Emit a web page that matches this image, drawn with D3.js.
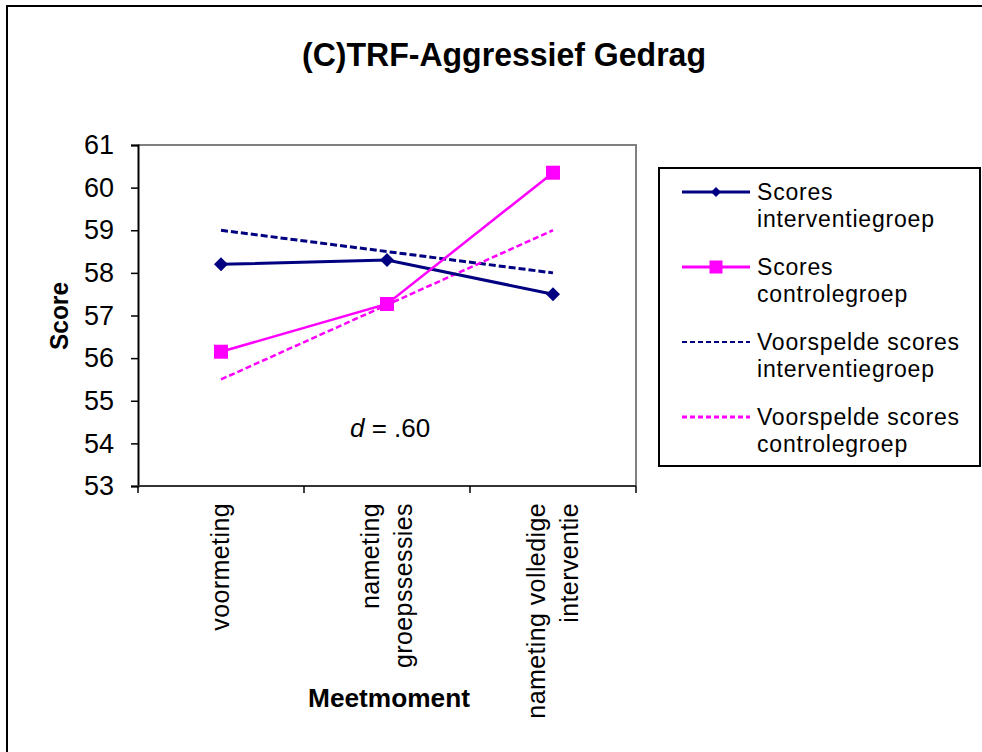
<!DOCTYPE html>
<html>
<head>
<meta charset="utf-8">
<script src="https://cdn.jsdelivr.net/npm/d3@7"></script>
<style>
  body { margin: 0; background: #fff; }
  text { font-family: Arial, "Liberation Sans", sans-serif; fill: #000; }
</style>
</head>
<body>
<div class="chart"></div>
<script>
const categories = ['voormeting', 'nameting groepssessies', 'nameting volledige interventie'];
const categoryLines = [['voormeting'], ['nameting', 'groepssessies'], ['nameting volledige', 'interventie']];
const scoresInterventie = [58.2, 58.3, 57.5];
const scoresControle = [56.15, 57.27, 60.35];
const voorspeldInterventie = [59.0, 58.5, 58.0];
const voorspeldControle = [55.5, 57.25, 59.0];
const yTicks = [53, 54, 55, 56, 57, 58, 59, 60, 61];

const series = [
    { name: ['Scores', 'interventiegroep'], values: scoresInterventie, color: '#000080', width: 3, dash: null, marker: 'diamond' },
    { name: ['Scores', 'controlegroep'], values: scoresControle, color: '#ff00ff', width: 2.5, dash: null, marker: 'square' },
    { name: ['Voorspelde scores', 'interventiegroep'], values: voorspeldInterventie, color: '#000080', width: 3, dash: '7,3', marker: null },
    { name: ['Voorspelde scores', 'controlegroep'], values: voorspeldControle, color: '#ff00ff', width: 2.5, dash: '6,3', marker: null }
];

const plot = { left: 138, right: 636, top: 145, bottom: 486 };

const svg = d3.select('.chart')
    .append('svg')
        .attr('width', 982)
        .attr('height', 752);

// outer frame (right/bottom edges fall outside the picture)
svg.append('rect')
    .attr('x', 7).attr('y', 6)
    .attr('width', 1000).attr('height', 800)
    .attr('fill', 'none')
    .attr('stroke', '#000')
    .attr('stroke-width', 2);

svg.append('text')
    .attr('x', 504).attr('y', 66)
    .attr('text-anchor', 'middle')
    .attr('font-size', 34)
    .attr('font-weight', 'bold')
    .attr('textLength', 404)
    .attr('lengthAdjust', 'spacingAndGlyphs')
    .text('(C)TRF-Aggressief Gedrag');

const x = d3.scaleBand()
    .domain(categories)
    .range([plot.left, plot.right]);

const y = d3.scaleLinear()
    .domain([53, 61])
    .range([plot.bottom, plot.top]);

// plot frame: grey top and right
svg.append('path')
    .attr('d', `M${plot.left},${plot.top}H${plot.right}V${plot.bottom}`)
    .attr('fill', 'none')
    .attr('stroke', '#808080')
    .attr('stroke-width', 2);

// y axis
const yAxis = svg.append('g')
    .attr('transform', `translate(${plot.left},0)`)
    .call(d3.axisLeft(y).tickValues(yTicks).tickSize(7).tickPadding(17).tickFormat(d3.format('d')));
yAxis.select('.domain').attr('stroke', '#000').attr('stroke-width', 2);
yAxis.selectAll('.tick line').attr('stroke', '#000').attr('stroke-width', 1.5);
yAxis.selectAll('.tick text')
    .attr('font-size', 27)
    .attr('font-family', 'Arial, "Liberation Sans", sans-serif')
    .attr('fill', '#000');

// x axis: ticks at the category boundaries
const xBounds = categories.map(c => x(c)).concat([x(categories[categories.length - 1]) + x.bandwidth()]);
svg.append('line')
    .attr('x1', plot.left).attr('x2', plot.right)
    .attr('y1', plot.bottom).attr('y2', plot.bottom)
    .attr('stroke', '#333')
    .attr('stroke-width', 2);
svg.selectAll('.xtick')
    .data(xBounds)
    .enter()
        .append('line')
        .attr('class', 'xtick')
        .attr('x1', d => d).attr('x2', d => d)
        .attr('y1', plot.bottom).attr('y2', plot.bottom + 7)
        .attr('stroke', '#000')
        .attr('stroke-width', 1.5);

const xLabels = svg.selectAll('.xlabel')
    .data(categories)
    .enter()
        .append('text')
        .attr('class', 'xlabel')
        .attr('transform', d => `translate(${x(d) + x.bandwidth() / 2},503) rotate(-90)`)
        .attr('text-anchor', 'end')
        .attr('font-size', 25)
        .attr('letter-spacing', 0.4);
xLabels.each(function(d, i) {
    const lines = categoryLines[i];
    d3.select(this).selectAll('tspan')
        .data(lines)
        .enter()
            .append('tspan')
            .attr('x', 0)
            .attr('y', (l, j) => 8 + (j - (lines.length - 1) / 2) * 33)
            .text(l => l);
});

// axis titles
svg.append('text')
    .attr('transform', 'translate(68,316) rotate(-90)')
    .attr('text-anchor', 'middle')
    .attr('font-size', 26)
    .attr('font-weight', 'bold')
    .attr('textLength', 68)
    .attr('lengthAdjust', 'spacingAndGlyphs')
    .text('Score');

svg.append('text')
    .attr('x', 389).attr('y', 707)
    .attr('text-anchor', 'middle')
    .attr('font-size', 26)
    .attr('font-weight', 'bold')
    .attr('textLength', 162)
    .attr('lengthAdjust', 'spacingAndGlyphs')
    .text('Meetmoment');

// lines
const line = d3.line()
    .x((d, i) => x(categories[i]) + x.bandwidth() / 2)
    .y(d => y(d));

const drawOrder = [series[2], series[3], series[0], series[1]];
svg.selectAll('.series')
    .data(drawOrder)
    .enter()
        .append('path')
        .attr('class', 'series')
        .attr('d', d => line(d.values))
        .attr('fill', 'none')
        .attr('stroke', d => d.color)
        .attr('stroke-width', d => d.width)
        .attr('stroke-dasharray', d => d.dash);

const drawMarker = (sel, type, color, size) => {
    if (type === 'diamond') {
        sel.append('path')
            .attr('d', `M0,${-size / 2}L${size / 2},0L0,${size / 2}L${-size / 2},0Z`)
            .attr('fill', color);
    } else if (type === 'square') {
        sel.append('rect')
            .attr('x', -size / 2).attr('y', -size / 2)
            .attr('width', size).attr('height', size)
            .attr('fill', color);
    }
};

series.filter(s => s.marker).forEach(s => {
    svg.selectAll(null)
        .data(s.values)
        .enter()
            .append('g')
            .attr('transform', (d, i) => `translate(${x(categories[i]) + x.bandwidth() / 2},${y(d)})`)
            .each(function() { drawMarker(d3.select(this), s.marker, s.color, 14); });
});

// effect size note
const note = svg.append('text')
    .attr('x', 350).attr('y', 437)
    .attr('font-size', 26);
note.append('tspan').attr('font-style', 'italic').text('d');
note.append('tspan').text(' = .60');

// legend
const legend = svg.append('g');
legend.append('rect')
    .attr('x', 659).attr('y', 168)
    .attr('width', 321).attr('height', 298)
    .attr('fill', '#fff')
    .attr('stroke', '#000')
    .attr('stroke-width', 2);

const item = legend.selectAll('.item')
    .data(series)
    .enter()
        .append('g')
        .attr('class', 'item')
        .attr('transform', (d, i) => `translate(0,${192 + i * 75})`);

item.append('line')
    .attr('x1', 682).attr('x2', 750)
    .attr('stroke', d => d.color)
    .attr('stroke-width', (d, i) => i === 2 ? 2 : 3)
    .attr('stroke-dasharray', d => d.dash ? '5,3' : null);

item.each(function(d) {
    const g = d3.select(this).append('g').attr('transform', 'translate(716,0)');
    drawMarker(g, d.marker, d.color, d.marker === 'square' ? 13 : 10);
});

item.append('text')
    .attr('x', 757)
    .attr('font-size', 23)
    .attr('letter-spacing', 0.8)
    .selectAll('tspan')
    .data(d => d.name)
    .enter()
        .append('tspan')
        .attr('x', 757)
        .attr('y', (d, j) => 8 + j * 27)
        .text(d => d);
</script>
</body>
</html>
